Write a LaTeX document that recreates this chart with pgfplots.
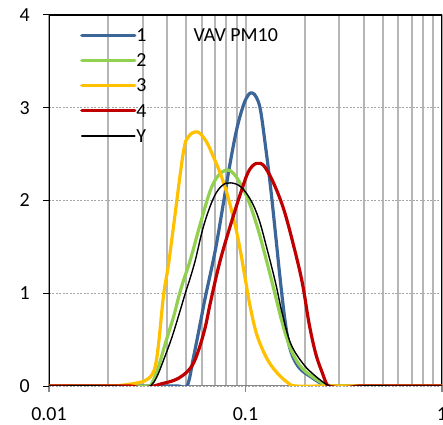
\documentclass[border=0pt]{standalone}
\usepackage{pgfplots}
\pgfplotsset{compat=1.18}
\usepackage{fontspec}
\setmainfont{Carlito}
\definecolor{c1}{RGB}{60,101,152}
\definecolor{c2}{RGB}{146,208,80}
\definecolor{c3}{RGB}{255,192,0}
\definecolor{c4}{RGB}{192,0,0}
\definecolor{gridgray}{RGB}{182,182,182}
\definecolor{axgray}{RGB}{134,134,134}
\begin{document}
\begin{tikzpicture}
\begin{axis}[
  at={(49bp,39bp)}, anchor=south west,
  scale only axis, width=393bp, height=371bp,
  xmode=log, xmin=0.01, xmax=1, ymin=0, ymax=4,
  xtick={0.01,0.1,1}, xticklabels={0.01,0.1,1},
  minor xtick={0.02,0.03,0.04,0.05,0.06,0.07,0.08,0.09,0.2,0.3,0.4,0.5,0.6,0.7,0.8,0.9},
  ytick={0,1,2,3,4},
  xmajorgrids=true, xminorgrids=true, ymajorgrids=true,
  major x grid style={color=gridgray, line width=2bp},
  minor x grid style={color=gridgray, line width=2bp},
  major y grid style={color=gray!70, line width=0.6bp, dash pattern=on 2bp off 1.5bp},
  axis line style={draw=none},
  tick align=outside, xtick pos=lower, ytick pos=left,
  major tick length=6bp, minor tick length=0pt,
  x tick style={color=axgray, line width=1.2bp},
  y tick style={color=black, line width=1bp},
  tick label style={font=\fontsize{20}{24}\selectfont},
  /pgf/number format/assume math mode=true,
  yticklabel style={inner sep=0pt, anchor=east, xshift=-13bp},
  xticklabel style={inner sep=0pt, anchor=north, yshift=-15bp},
  legend style={draw=none, fill=none, at={(rel axis cs:0.0789,0.9558)}, anchor=north west,
    inner sep=0pt, font=\fontsize{20}{24}\selectfont, row sep=11.2bp,
    nodes={inner sep=0pt, text height=10bp, text depth=4bp}},
  legend cell align=left,
  legend image code/.code={\draw[#1] (0bp,3.3bp) -- (53bp,3.3bp);},
  every axis plot/.append style={smooth, tension=0.6, line join=round, line cap=round},
]
\draw[axgray, line width=2bp] (rel axis cs:0,0) -- (rel axis cs:1,0);
\draw[black, line width=1.2bp] (rel axis cs:0,1) -- (rel axis cs:1,1) -- (rel axis cs:1,0);
\draw[black, line width=1.8bp] (rel axis cs:0,0) -- (rel axis cs:0,1);

\addplot[c1, line width=3.2bp] coordinates {
(0.01,0) (0.03,0) (0.045,0) (0.0504,0) (0.0545,0.32) (0.0589,0.68) (0.0625,0.96)
(0.0703,1.47) (0.0776,2.0) (0.0838,2.42) (0.0905,2.78) (0.0977,3.03)
(0.1035,3.14) (0.1082,3.16) (0.1138,3.11) (0.1193,2.97) (0.1265,2.58) (0.1342,2.14)
(0.1423,1.63) (0.1509,1.11) (0.16,0.66) (0.1697,0.38) (0.187,0.20) (0.2146,0.10)
(0.2508,0.01) (0.27,0) (0.4,0) (1,0)};
\addlegendentry{1}

\addplot[c2, line width=3.2bp] coordinates {
(0.01,0) (0.02,0) (0.0315,0) (0.0334,0.03) (0.0361,0.21) (0.0391,0.46) (0.0431,0.75)
(0.0457,0.96) (0.0484,1.14) (0.0524,1.36) (0.0589,1.75) (0.0663,2.11) (0.0728,2.27)
(0.0807,2.33) (0.0870,2.29) (0.0943,2.18) (0.1039,1.99) (0.1147,1.72) (0.1265,1.39)
(0.1395,1.04) (0.1539,0.68) (0.1697,0.40) (0.1908,0.21) (0.2189,0.10) (0.256,0.01)
(0.27,0) (0.4,0) (1,0)};
\addlegendentry{2}

\addplot[c3, line width=3.2bp] coordinates {
(0.01,0) (0.02,0.002) (0.0239,0.01) (0.0291,0.04) (0.0315,0.07) (0.0334,0.12)
(0.0348,0.22) (0.0361,0.45) (0.0383,0.98) (0.0405,1.30) (0.0429,1.70)
(0.0483,2.52) (0.0514,2.69) (0.0556,2.74) (0.0589,2.72) (0.0638,2.62) (0.0687,2.47)
(0.0745,2.29) (0.0809,2.06) (0.0889,1.72) (0.0943,1.45) (0.1,1.14) (0.106,0.84)
(0.1147,0.54) (0.129,0.29) (0.1451,0.14) (0.1632,0.04) (0.1799,0) (0.25,0) (0.4,0) (1,0)};
\addlegendentry{3}

\addplot[c4, line width=3.2bp] coordinates {
(0.01,0) (0.02,0) (0.0259,0) (0.0291,-0.02) (0.0328,-0.01) (0.0368,0.02) (0.0431,0.06)
(0.0484,0.12) (0.0535,0.22) (0.0578,0.39) (0.0625,0.64) (0.0663,0.90) (0.0745,1.36)
(0.0872,1.85) (0.0962,2.13) (0.1024,2.29) (0.1082,2.37) (0.1138,2.40) (0.1193,2.40)
(0.1265,2.35) (0.1395,2.18)
(0.1568,1.90) (0.1764,1.50) (0.1947,1.11) (0.2104,0.68) (0.2276,0.35) (0.2462,0.14)
(0.2611,0.01) (0.28,-0.01) (0.3053,-0.02) (0.35,-0.01) (0.3861,0) (0.6,0) (1,0)};
\addlegendentry{4}

\addplot[black, line width=1.4bp] coordinates {
(0.01,0) (0.02,0) (0.0259,-0.01) (0.0291,-0.02) (0.0328,0) (0.0354,0.10) (0.0383,0.28)
(0.0423,0.53) (0.0466,0.82) (0.0494,1.0) (0.0524,1.17) (0.0556,1.36) (0.0613,1.73)
(0.0689,2.03) (0.076,2.16) (0.0838,2.19) (0.0943,2.15) (0.106,2.01) (0.1169,1.80)
(0.129,1.47) (0.1423,1.11) (0.1539,0.78) (0.1697,0.46) (0.1947,0.25) (0.2231,0.12)
(0.2611,0.01) (0.28,-0.01) (0.3053,-0.02) (0.3861,0) (0.6,0) (1,0)};
\addlegendentry{Y}

\node[anchor=base west, inner sep=0pt, font=\fontsize{20}{24}\selectfont] at (axis cs:0.0543,3.709) {VAV PM10};
\end{axis}
\pgfresetboundingbox
\path[use as bounding box] (0,0) rectangle (443bp,425bp);
\end{tikzpicture}
\end{document}
